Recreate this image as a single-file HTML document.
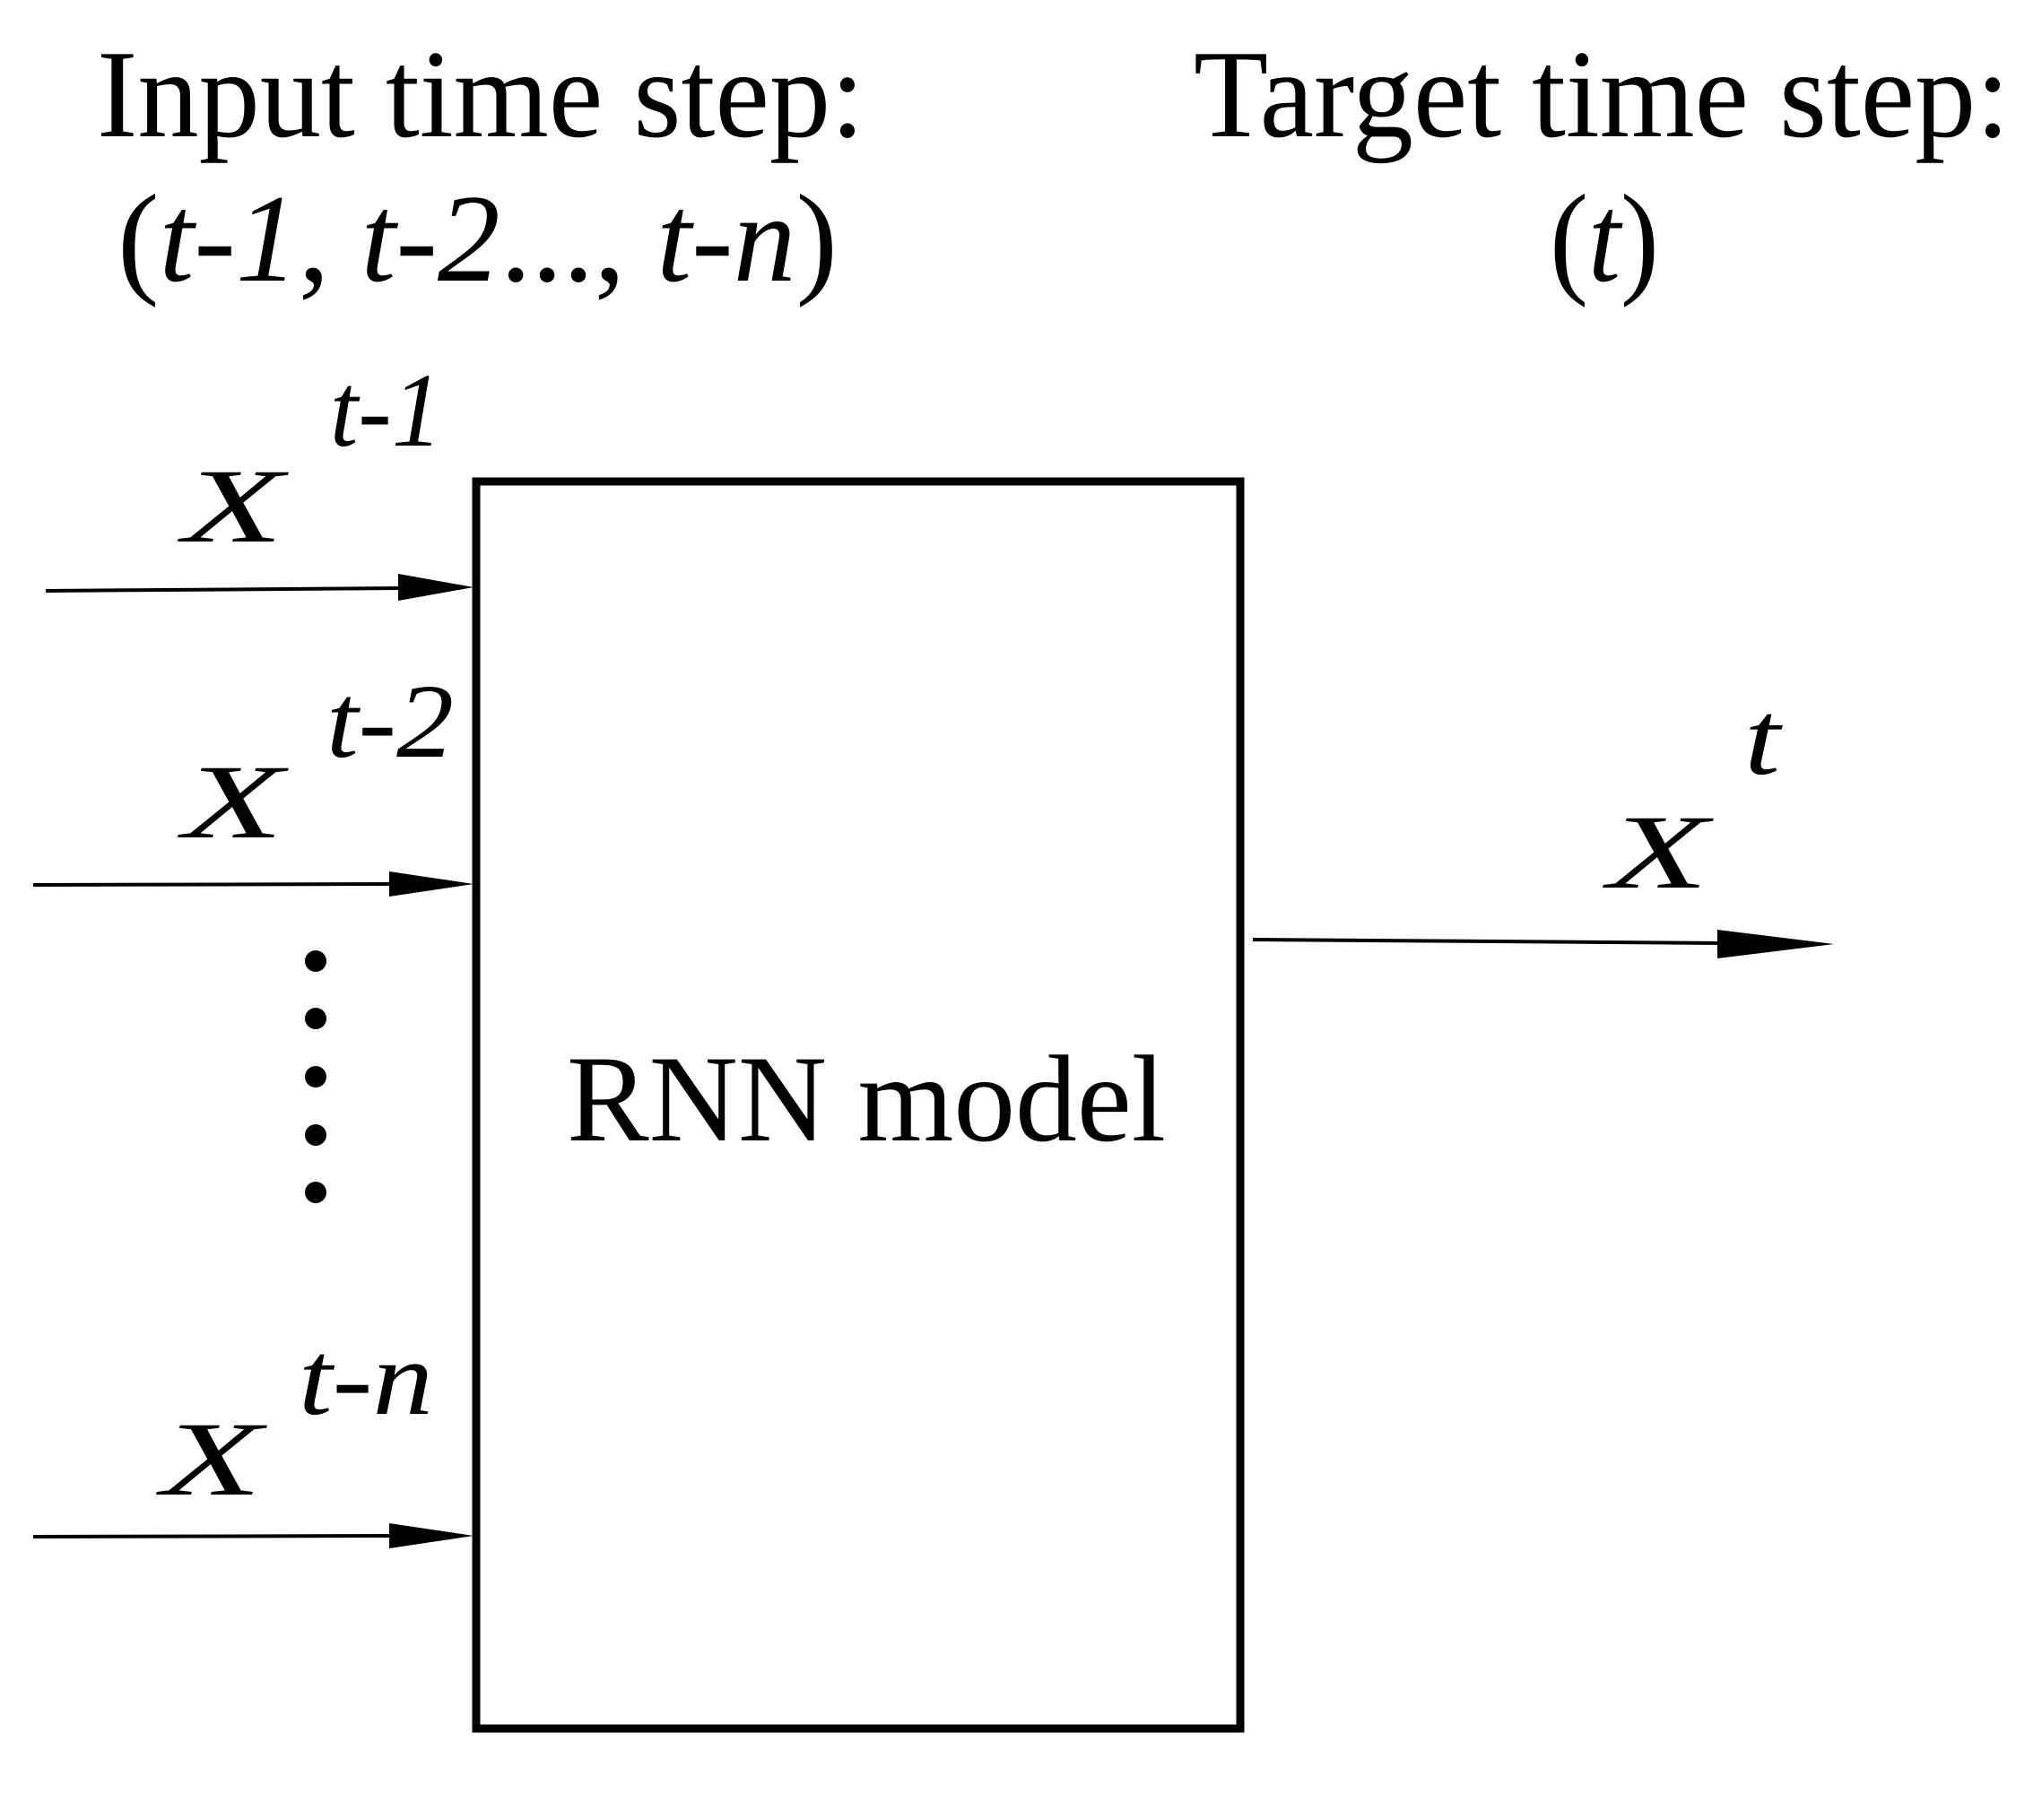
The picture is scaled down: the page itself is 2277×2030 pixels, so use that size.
<!DOCTYPE html>
<html><head><meta charset="utf-8"><style>html,body{margin:0;padding:0;background:#fff}svg{display:block}</style></head>
<body>
<svg width="2277" height="2030" viewBox="0 0 2277 2030" xmlns="http://www.w3.org/2000/svg" font-family="Liberation Serif, serif" fill="#000">
<text x="108" y="152" font-size="140" textLength="856" lengthAdjust="spacingAndGlyphs">Input time step:</text>
<text x="131" y="313" font-size="140" textLength="803" lengthAdjust="spacingAndGlyphs">(<tspan font-style="italic">t-1</tspan>, <tspan font-style="italic">t-2</tspan>..., <tspan font-style="italic">t-n</tspan>)</text>
<text x="1331" y="152" font-size="140" textLength="910" lengthAdjust="spacingAndGlyphs">Target time step:</text>
<text x="1728" y="313" font-size="140" textLength="122" lengthAdjust="spacingAndGlyphs">(<tspan font-style="italic">t</tspan>)</text>

<rect x="531" y="537" width="852" height="1391" fill="none" stroke="#000" stroke-width="9"/>
<text x="632" y="1272" font-size="138" textLength="668" lengthAdjust="spacingAndGlyphs">RNN model</text>

<g stroke="#000" stroke-width="4">
<line x1="51" y1="659" x2="450" y2="656"/>
<line x1="37" y1="987" x2="440" y2="986"/>
<line x1="37" y1="1714" x2="440" y2="1713"/>
<line x1="1397" y1="1048" x2="1925" y2="1052"/>
</g>
<polygon points="444,640 528,655 444,670"/>
<polygon points="434,972 528,986 434,1000"/>
<polygon points="434,1699 528,1713 434,1727"/>
<polygon points="1915,1037 2045,1053 1915,1069"/>

<g font-style="italic" font-size="118">
<text x="204" y="604" textLength="112" lengthAdjust="spacingAndGlyphs">X</text>
<text x="368" y="497" textLength="125" lengthAdjust="spacingAndGlyphs">t-1</text>
<text x="204" y="934" textLength="112" lengthAdjust="spacingAndGlyphs">X</text>
<text x="364" y="844" textLength="142" lengthAdjust="spacingAndGlyphs">t-2</text>
<text x="180" y="1667" textLength="112" lengthAdjust="spacingAndGlyphs">X</text>
<text x="333" y="1577" textLength="150" lengthAdjust="spacingAndGlyphs">t-n</text>
<text x="1793" y="990" textLength="112" lengthAdjust="spacingAndGlyphs">X</text>
<text x="1945" y="863" textLength="40" lengthAdjust="spacingAndGlyphs">t</text>
</g>
<g>
<circle cx="352" cy="1072" r="12"/>
<circle cx="352" cy="1136" r="12"/>
<circle cx="352" cy="1201" r="12"/>
<circle cx="352" cy="1266" r="12"/>
<circle cx="352" cy="1330" r="12"/>
</g>
</svg>
</body></html>
